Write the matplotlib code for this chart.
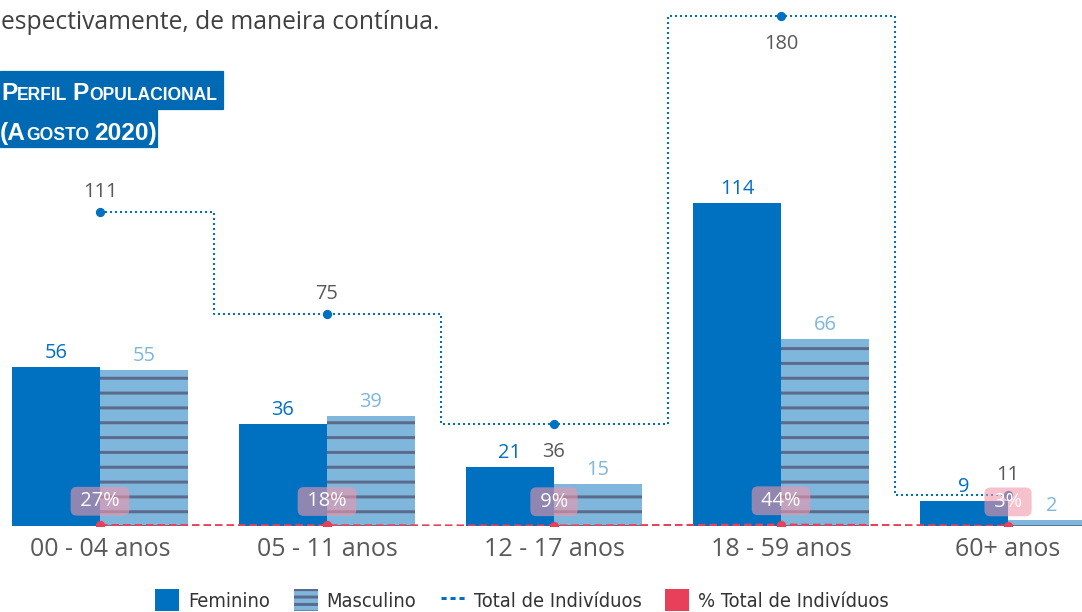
import matplotlib
matplotlib.use("Agg")
import matplotlib.pyplot as plt
from matplotlib.patches import Patch, Rectangle
from matplotlib.lines import Line2D
from matplotlib.font_manager import FontProperties
import numpy as np

# dados do perfil populacional (agosto 2020)
categorias = ["00 - 04 anos", "05 - 11 anos", "12 - 17 anos", "18 - 59 anos", "60+ anos"]
feminino = [56, 36, 21, 114, 9]
masculino = [55, 39, 15, 66, 2]
total = [111, 75, 36, 180, 11]
percentual = [27, 18, 9, 44, 3]

W, H, DPI = 1082, 612, 89
PT = 72 / DPI  # pixel -> ponto

AZUL = "#0070C0"
AZUL_CLARO = "#7FB6DC"
LISTRA = "#5C6B8C"
VERMELHO = "#E8405A"
CINZA = "#595959"

plt.rcParams["font.family"] = ["Open Sans", "DejaVu Sans"]
plt.rcParams["hatch.linewidth"] = 3 * PT

fig = plt.figure(figsize=(W / DPI, H / DPI), dpi=DPI)
ax = fig.add_axes([0, 86 / H, 1, 526 / H])

x = np.arange(len(categorias))
larg = 0.388
pct = np.array(percentual) / 100

ax.bar(x - larg / 2, feminino, larg, color=AZUL, lw=0, zorder=2)
ax.bar(x + larg / 2, masculino, larg, color=AZUL_CLARO, edgecolor=LISTRA,
       hatch="-", lw=0, zorder=2)

# linha total (degraus) e % total
ax.plot(x, total, drawstyle="steps-mid", color=AZUL, lw=2 * PT,
        ls=(0, (1, 1.5)), zorder=3)
ax.plot(x, total, "o", color=AZUL, ms=8 * PT, zorder=3)
ax.plot(x, pct, color=VERMELHO, lw=2.5 * PT, ls=(0, (3, 1.6)), zorder=3)
ax.plot(x, pct, "o", color=VERMELHO, ms=8 * PT, zorder=3)

for xi, v in zip(x, feminino):
    ax.annotate(str(v), (xi - larg / 2, v), xytext=(0, 14 * PT), textcoords="offset points",
                ha="center", va="center", color=AZUL, fontsize=20 * PT)
for xi, v in zip(x, masculino):
    ax.annotate(str(v), (xi + larg / 2, v), xytext=(0, 14 * PT), textcoords="offset points",
                ha="center", va="center", color=AZUL_CLARO, fontsize=20 * PT,
                annotation_clip=False)

pos_total = [20, 20, -28, -28, 20]
for xi, v, dy in zip(x, total, pos_total):
    ax.annotate(str(v), (xi, v), xytext=(0, dy * PT), textcoords="offset points",
                ha="center", va="center", color=CINZA, fontsize=20 * PT, zorder=4)

for xi, p, v in zip(x, percentual, pct):
    ax.annotate(" %d%% " % p, (xi, v), xytext=(0, 24 * PT), textcoords="offset points",
                ha="center", va="center", color="white", fontsize=20 * PT, zorder=6,
                bbox=dict(boxstyle="round,pad=0.22,rounding_size=0.3", fc="#F096AA",
                          alpha=0.6, ec="none"))

ax.set_xlim(-100 / 227, (W - 100) / 227)
ax.set_ylim(0, 526 / 2.833)
for s in ax.spines.values():
    s.set_visible(False)
ax.set_yticks([])
ax.set_xticks(x)
ax.set_xticklabels(categorias)
ax.tick_params(axis="x", length=0, pad=11 * PT, labelsize=25 * PT, labelcolor=CINZA)

# texto do topo
fig.text(1 / W, 1 - 29 / H, "espectivamente, de maneira contínua.", fontsize=24.7 * PT,
         color="#404040", va="baseline", ha="left")

# titulo em versalete sobre caixas azuis
fig.patches.append(Rectangle((0, 1 - 109 / H), 223 / W, 38 / H, transform=fig.transFigure,
                             color="#0069B4", zorder=0))
fig.patches.append(Rectangle((0, 1 - 147 / H), 157 / W, 38 / H, transform=fig.transFigure,
                             color="#0069B4", zorder=0))

r = fig.canvas.get_renderer()


def versalete(x0, base, partes):
    xp = x0
    for txt, tam in partes:
        if txt is None:
            xp += tam
            continue
        t = fig.text(xp / W, 1 - base / H, txt, fontsize=tam * PT, color="white",
                     fontweight="bold", family=["Liberation Sans", "DejaVu Sans"],
                     ha="left", va="baseline")
        xp = t.get_window_extent(r).x1


G, P = 24.5, 17.5
versalete(1, 100, [("P", G), ("ERFIL", P), (None, 5), ("P", G), ("OPULACIONAL", P)])
versalete(0, 140, [("(A", G), ("GOSTO", P), (None, 5), ("2020)", G)])

# legenda
handles = [
    Patch(facecolor=AZUL, lw=0),
    Patch(facecolor=AZUL_CLARO, edgecolor=LISTRA, hatch="--", lw=0),
    Line2D([], [], color=AZUL, lw=3 * PT, ls=(0, (1.7, 1.3))),
    Patch(facecolor=VERMELHO, lw=0),
]
labels = ["Feminino", "Masculino", "Total de Indivíduos", "% Total de Indivíduos"]
fonte_leg = FontProperties(family="DejaVu Sans", stretch="condensed", size=20 * PT)
fig.legend(handles, labels, loc="center", bbox_to_anchor=(522 / W, 1 - 600 / H), ncol=4,
           frameon=False, prop=fonte_leg,
           handlelength=1.2, handleheight=1.3, handletextpad=0.45, columnspacing=1.2,
           labelcolor="#333333", borderaxespad=0, borderpad=0)

fig.savefig("out.png", dpi=DPI)
